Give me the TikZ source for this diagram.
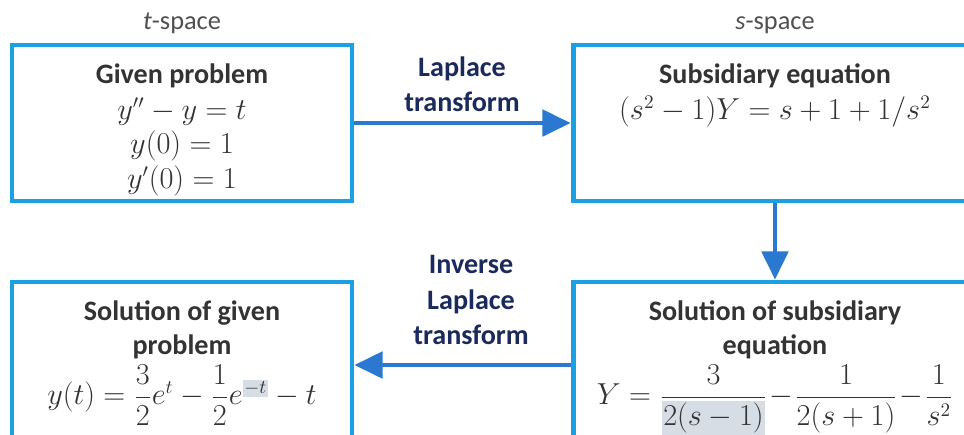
\documentclass[tikz,border=0pt]{standalone}
\usepackage{amsmath}
\usepackage[no-math]{fontspec}
\setmainfont{Carlito}
\usepackage{xcolor}
\usepackage{tikz}
\usetikzlibrary{arrows.meta,positioning}
\definecolor{boxblue}{HTML}{1BA1E2}
\definecolor{arrowblue}{HTML}{2A78D0}
\definecolor{navy}{HTML}{1B2A5C}
\definecolor{textgrey}{HTML}{333333}
\definecolor{spacegrey}{HTML}{505050}
\definecolor{hlgrey}{HTML}{D6DDE5}
\newcommand{\hlmark}[1]{{\setlength{\fboxsep}{1pt}\colorbox{hlgrey}{#1}}}

\begin{document}
\begin{tikzpicture}[x=0.02cm,y=-0.02cm,
  stagebox/.style={draw=boxblue,line width=2.8pt,fill=white,inner sep=0pt},
  flow/.style={draw=arrowblue,line width=2.3pt,-{Triangle[length=16pt,width=15pt]}},
  boxtext/.style={align=center,text=textgrey,inner sep=0pt,font=\fontsize{16}{19.5}\selectfont},
  steplabel/.style={align=center,text=navy,font=\fontsize{16}{20}\selectfont\bfseries},
  spacelabel/.style={text=spacegrey,font=\fontsize{15}{18}\selectfont}]
  \clip (0,0) rectangle (964,434);
  \fill[white] (0,0) rectangle (964,434);

  \node[stagebox,minimum width=6.8cm,minimum height=3.12cm] (given) at (182,123) {};
  \node[stagebox,minimum width=8.08cm,minimum height=3.12cm] (subs) at (775,123) {};
  \node[stagebox,minimum width=8.08cm,minimum height=3.32cm] (solsub) at (775,365) {};
  \node[stagebox,minimum width=6.8cm,minimum height=3.32cm] (solgiven) at (182,365) {};

  \node[spacelabel,above=0.06cm of given] (tspace) {\textit{t}-space};
  \node[spacelabel,above=0.06cm of subs] (sspace) {\textit{s}-space};

  \node[boxtext,below=0.42cm of given.north] (giventext)
    {\textbf{Given problem}\\[1pt] $y''-y=t$\\ $y(0)=1$\\ $y'(0)=1$};
  \node[boxtext,below=0.42cm of subs.north] (substext)
    {\textbf{Subsidiary equation}\\[1pt] $(s^2-1)Y=s+1+1/s^2$};
  \node[boxtext,below=0.42cm of solsub.north] (solsubtext)
    {\textbf{Solution of subsidiary}\\ \textbf{equation}\\[2pt]
     $Y=\dfrac{3}{\hlmark{$2(s-1)$}}\mkern-3mu-\mkern-3mu\dfrac{1}{2(s+1)}\mkern-3mu-\mkern-3mu\dfrac{1}{s^2}$};
  \node[boxtext,below=0.42cm of solgiven.north] (solgiventext)
    {\textbf{Solution of given}\\ \textbf{problem}\\[2pt]
     $y(t)=\dfrac{3}{2}e^{t}-\dfrac{1}{2}e^{\hlmark{$\scriptstyle -t$}}-t$};

  \draw[flow] (given.east) -- (subs.west);
  \draw[flow] (subs.south) -- (solsub.north);
  \draw[flow] (solsub.west) -- (solgiven.east);

  \node[steplabel] (lt) at (462,84) {Laplace\\transform};
  \node[steplabel] (ilt) at (471,300) {Inverse\\Laplace\\transform};
\end{tikzpicture}
\end{document}
